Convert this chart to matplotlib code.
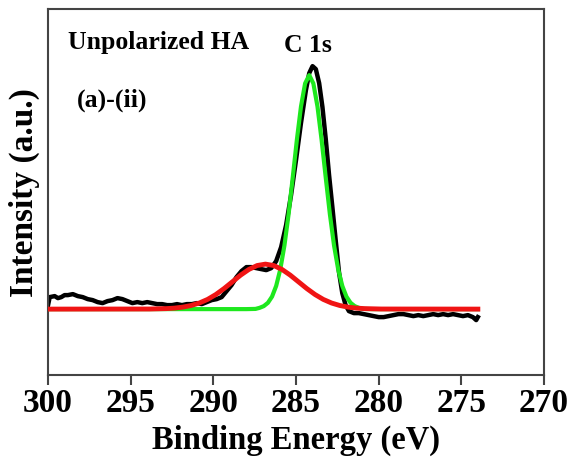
import matplotlib
matplotlib.use("Agg")
import matplotlib.pyplot as plt

plt.rcParams["font.family"] = ["Liberation Serif", "DejaVu Serif"]
plt.rcParams["font.weight"] = "bold"

# measured spectrum (binding energy, intensity a.u.)
black_be = [300.0, 299.9, 299.6, 299.4, 299.2, 299.0, 298.8, 298.5, 298.2, 297.9, 297.6,
            297.3, 297.0, 296.7, 296.4, 296.1, 295.8, 295.5, 295.2, 294.9, 294.6, 294.3,
            294.0, 293.7, 293.4, 293.1, 292.8, 292.5, 292.2, 291.9, 291.6, 291.3, 291.0,
            290.7, 290.4, 290.1, 289.8, 289.5, 289.2, 288.9, 288.6, 288.3, 288.0, 287.7,
            287.4, 287.1, 286.8, 286.5, 286.2, 285.9, 285.6, 285.3, 285.0, 284.7, 284.4,
            284.2, 284.0, 283.8, 283.6, 283.4, 283.2, 283.0, 282.8, 282.6, 282.4, 282.2,
            282.0, 281.8, 281.5, 281.2, 280.9, 280.6, 280.3, 280.0, 279.7, 279.4, 279.1,
            278.8, 278.5, 278.2, 277.9, 277.6, 277.3, 277.0, 276.7, 276.4, 276.1, 275.8,
            275.5, 275.2, 274.9, 274.6, 274.3, 274.1, 274.0]
black_int = [70, 78, 79, 77, 78, 80, 80, 81, 79, 78, 76,
             75, 73, 72, 74, 75, 77, 76, 74, 72, 73, 72,
             73, 72, 71, 71, 70, 70, 71, 70, 71, 71, 72,
             71, 73, 75, 76, 78, 84, 90, 98, 104, 108, 108,
             107, 106, 105, 107, 114, 128, 150, 180, 215, 252, 285,
             302, 309, 306, 292, 268, 236, 200, 168, 135, 103, 82,
             70, 64, 62, 62, 61, 60, 59, 58, 58, 59, 60,
             61, 61, 60, 59, 60, 59, 60, 61, 60, 61, 60,
             61, 60, 59, 60, 58, 55, 58]

# fitted C 1s component (green)
green_be = [300.0, 288.0, 287.45, 287.2, 286.95, 286.7, 286.45, 286.2, 285.95, 285.7,
            285.45, 285.2, 284.95, 284.7, 284.45, 284.2, 283.95, 283.7, 283.45, 283.2,
            282.95, 282.7, 282.45, 282.2, 281.95, 281.7, 281.45, 281.2, 280.95, 280.45, 274.0]
green_int = [66, 66, 66.2, 67.3, 69.0, 72.3, 78.5, 89.2, 105.8, 129.7,
             160.8, 197.3, 235.0, 268.5, 291.7, 300, 291.7, 268.5, 235.0, 197.3,
             160.8, 129.7, 105.8, 89.2, 78.5, 72.3, 69.0, 67.3, 66.2, 66, 66]

# fitted shoulder component (red)
red_be = [300.0, 293.85, 292.85, 292.35, 291.85, 291.35, 290.85, 290.35, 289.85, 289.35, 288.85,
          288.35, 287.85, 287.35, 286.85, 286.35, 285.85, 285.35, 284.85, 284.35, 283.85, 283.35,
          282.85, 282.35, 281.85, 281.35, 280.85, 279.85, 274.0]
red_int = [66, 66.1, 66.5, 67.0, 68.0, 69.6, 72.1, 75.7, 80.6, 86.6, 93.3,
           100.0, 105.7, 109.6, 111, 109.6, 105.7, 100.0, 93.3, 86.6, 80.6, 75.7,
           72.1, 69.6, 68.0, 67.0, 66.5, 66.1, 66]

x_ticks = [300, 295, 290, 285, 280, 275, 270]

fig = plt.figure(figsize=(5.72, 4.58), dpi=100)
ax = fig.add_axes([0.084, 0.181, 0.867, 0.799])

ax.plot(black_be, black_int, color="black", lw=3.2, solid_joinstyle="round", zorder=2)
ax.plot(green_be, green_int, color="#1ee81e", lw=3.0, zorder=3)
ax.plot(red_be, red_int, color="#f01414", lw=3.5, zorder=4)

ax.set_xlim(300, 270)
ax.set_ylim(0, 366)
ax.set_xticks(x_ticks)
ax.set_xticklabels([str(t) for t in x_ticks], fontsize=24, fontweight="bold")
ax.set_yticks([])
ax.tick_params(axis="x", direction="out", length=7, width=1.5, color="#444444", pad=2)
for s in ax.spines.values():
    s.set_linewidth(1.5)
    s.set_color("#444444")

ax.set_xlabel("Binding Energy (eV)", fontsize=23.5, fontweight="bold", va="center")
ax.xaxis.set_label_coords(0.5, -0.178)
ax.set_ylabel("Intensity (a.u.)", fontsize=24, fontweight="bold", va="center")
ax.yaxis.set_label_coords(-0.047, 0.5)

ax.text(298.8, 333, "Unpolarized HA", fontsize=18.5, fontweight="bold", ha="left", va="center")
ax.text(298.25, 275, "(a)-(ii)", fontsize=18.5, fontweight="bold", ha="left", va="center")
ax.text(284.3, 330, "C 1s", fontsize=18.5, fontweight="bold", ha="center", va="center")

fig.savefig("out.png", dpi=100)
